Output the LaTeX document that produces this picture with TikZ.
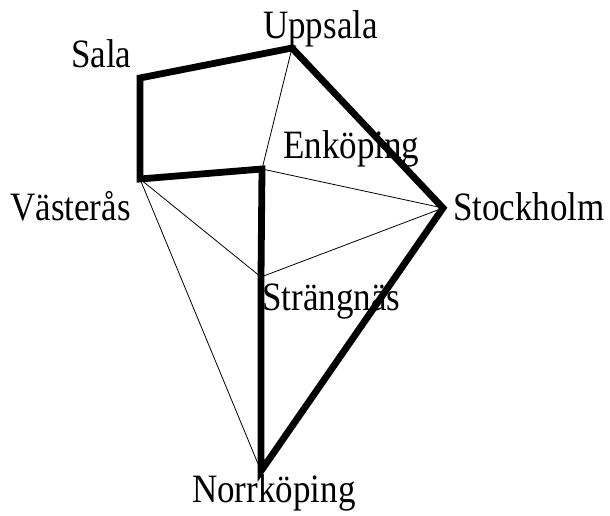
\documentclass[tikz,border=0pt]{standalone}
\usepackage{fontspec}
\setmainfont{Liberation Serif}
\usetikzlibrary{positioning}
\tikzset{
  every picture/.append style={line join=miter},
  tour edge/.style={line width=6.8pt},
  road edge/.style={line width=0.8pt},
  town label/.style={inner sep=0pt,anchor=base west,font=\fontsize{35}{40}\selectfont}
}
\newcommand{\townname}[1]{\scalebox{1}[1.15]{#1}}

\begin{document}
\begin{tikzpicture}[x=1pt, y=-1pt]
  \useasboundingbox (0,0) rectangle (610,516);
  % towns
  \coordinate (upp) at (292,48);
  \coordinate (sal) at (140,78);
  \coordinate (vas) at (140,179);
  \coordinate (enk) at (262,169);
  \coordinate (sto) at (443,208);
  \coordinate (str) at (261,277);
  \coordinate (nor) at (261,471);
  % other roads
  \foreach \a/\b in {upp/enk,enk/sto,vas/str,str/sto,vas/nor}
    \draw[road edge] (\a) -- (\b);
  % the tour
  \draw[tour edge] (upp) -- (sal) -- (vas) -- (enk) -- (str) -- (nor) -- (sto) -- cycle;
  % names
  \node[town label] (upp label) at (263,39) {\townname{Uppsala}};
  \node[town label] (sal label) at (71,68) {\townname{Sala}};
  \node[town label] (vas label) at (10,220) {\townname{Västerås}};
  \node[town label] (enk label) at (283,158) {\townname{Enköping}};
  \node[town label] (sto label) at (453,220) {\townname{Stockholm}};
  \node[town label] (str label) at (262,310) {\townname{Strängnäs}};
  \node[town label] (nor label) at (192,502) {\townname{Norrköping}};
\end{tikzpicture}
\end{document}
